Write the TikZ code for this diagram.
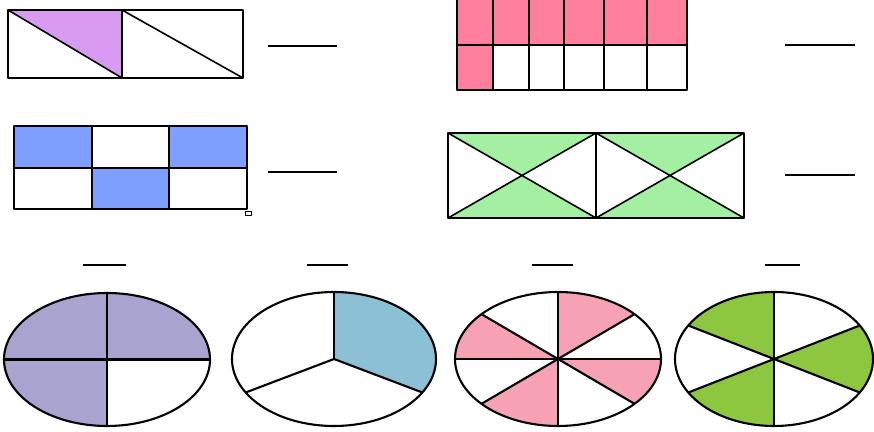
\documentclass[tikz,border=0pt]{standalone}
\usepackage{tikz}
\usetikzlibrary{calc}
\definecolor{tim}{HTML}{D99BF2}
\definecolor{hong}{HTML}{FF7F9E}
\definecolor{xanhduong}{HTML}{7F9FFF}
\definecolor{xanhla}{HTML}{A3F0A3}
\definecolor{oaihuong}{HTML}{A9A3D0}
\definecolor{xanhnhat}{HTML}{8CC0D4}
\definecolor{honglot}{HTML}{F7A1B5}
\definecolor{reuchuoi}{HTML}{8DC63F}

\begin{document}
\begin{tikzpicture}[x=1pt, y=1pt, line join=round]
    \tikzset{khung/.style={line width=2.1pt}, net/.style={line width=1.6pt}, gach/.style={line width=1.8pt}}
    \useasboundingbox (0,0) rectangle (874,431);

    % 1. Hình chữ nhật gồm 2 ô vuông
    \fill[tim] (8,421) -- (122,421) -- (122,353) -- cycle;
    \draw[khung] (8,353) rectangle (243,421);
    \draw[khung] (122,353) -- (122,421);
    \draw[net] (8,421) -- (122,353) (122,421) -- (243,353);
    \draw[gach] (268,385) -- (337,385);

    % 2. Bảng 2 hàng 6 cột
    \fill[hong] (457,386) rectangle (687,431);
    \fill[hong] (457,341) rectangle (493,386);
    \draw[khung] (457,431) -- (457,341) -- (687,341) -- (687,431);
    \foreach \x in {493,529,564,604,647}
        \draw[khung] (\x,341) -- (\x,431);
    \draw[khung] (457,386) -- (687,386);
    \draw[gach] (785,386) -- (855,386);

    % 3. Bảng 2 hàng 3 cột
    \fill[xanhduong] (14,263) rectangle (92,305);
    \fill[xanhduong] (169,263) rectangle (247,305);
    \fill[xanhduong] (92,222) rectangle (169,263);
    \draw[khung] (14,222) rectangle (247,305);
    \draw[khung] (92,222) -- (92,305) (169,222) -- (169,305) (14,263) -- (247,263);
    \draw[thin] (245,216) rectangle (251,220);
    \draw[gach] (268,259) -- (337,259);

    % 4. Hai ô vuông có đường chéo
    \foreach \x in {448,596} {
        \fill[xanhla] (\x,298) -- ({\x+148},298) -- ({\x+74},255.5) -- cycle;
        \fill[xanhla] (\x,213) -- ({\x+148},213) -- ({\x+74},255.5) -- cycle;
        \draw[net] (\x,298) -- ({\x+148},213) (\x,213) -- ({\x+148},298);
    }
    \draw[khung] (448,213) rectangle (744,298);
    \draw[khung] (596,213) -- (596,298);
    \draw[gach] (785,256) -- (855,256);

    % 5. Các hình elip
    \fill[oaihuong] (107,71.5) -- ++(0:103 and 66.5) arc[start angle=0, end angle=270, x radius=103, y radius=66.5] -- cycle;
    \draw[khung] (107,71.5) ellipse[x radius=103, y radius=66.5];
    \draw[khung] (4,71.5) -- (210,71.5) (107,5) -- (107,138);
    \draw[gach] (83,166) -- (126,166);

    \fill[xanhnhat] (334,72) -- ++(-30:102 and 67) arc[start angle=-30, end angle=90, x radius=102, y radius=67] -- cycle;
    \draw[khung] (334,72) ellipse[x radius=102, y radius=67];
    \foreach \a in {90,210,330}
        \draw[khung] (334,72) -- ++(\a:102 and 67);
    \draw[gach] (307,166) -- (348,166);

    \foreach \a/\b in {42/90,138/180,222/270,318/360}
        \fill[honglot] (558,72) -- ++(\a:103 and 67) arc[start angle=\a, end angle=\b, x radius=103, y radius=67] -- cycle;
    \draw[khung] (558,72) ellipse[x radius=103, y radius=67];
    \foreach \a in {0,42,90,138,180,222,270,318}
        \draw[khung] (558,72) -- ++(\a:103 and 67);
    \draw[gach] (532,166) -- (573,166);

    \foreach \a/\b in {90/150,210/270,330/390}
        \fill[reuchuoi] (774,72) -- ++(\a:99 and 67) arc[start angle=\a, end angle=\b, x radius=99, y radius=67] -- cycle;
    \draw[khung] (774,72) ellipse[x radius=99, y radius=67];
    \foreach \a in {30,90,150,210,270,330}
        \draw[khung] (774,72) -- ++(\a:99 and 67);
    \draw[gach] (765,166) -- (800,166);
\end{tikzpicture}
\end{document}
